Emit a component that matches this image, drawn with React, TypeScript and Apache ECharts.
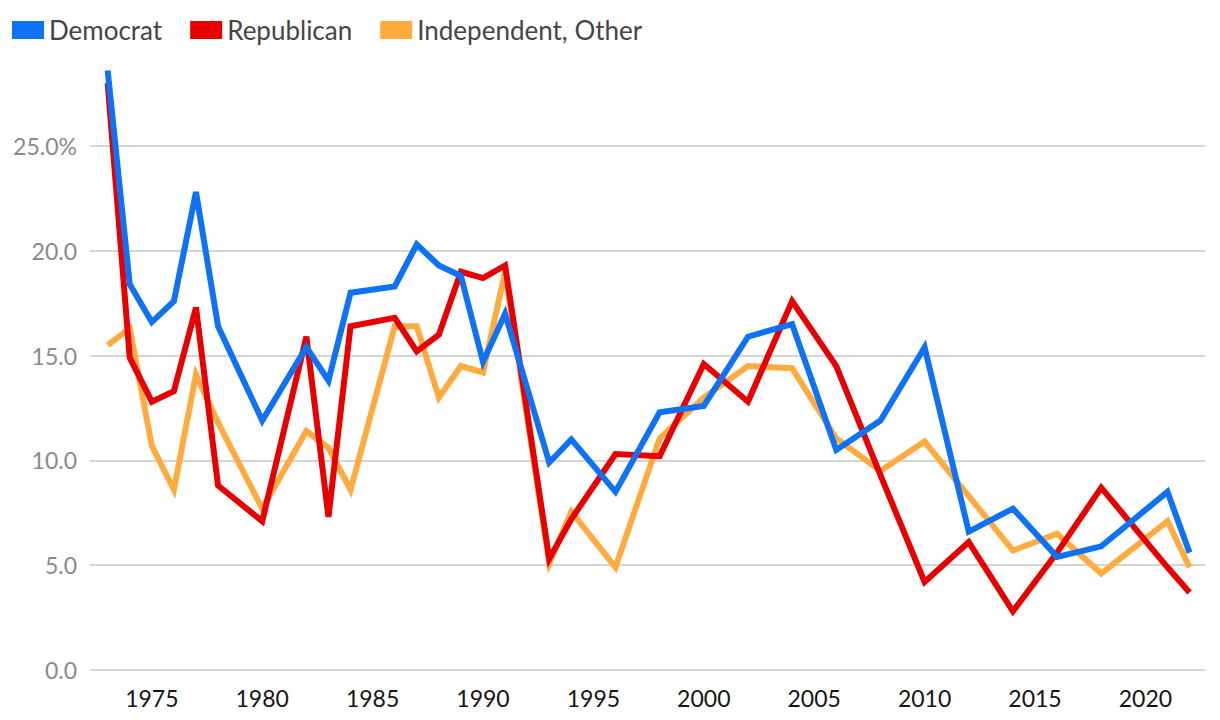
import React, { useEffect, useRef } from "react";
import * as echarts from "echarts";

const years = [1973, 1974, 1975, 1976, 1977, 1978, 1980, 1982, 1983, 1984, 1986, 1987, 1988, 1989, 1990, 1991, 1993, 1994, 1996, 1998, 2000, 2002, 2004, 2006, 2008, 2010, 2012, 2014, 2016, 2018, 2021, 2022];

const democrat = [28.6, 18.4, 16.6, 17.6, 22.8, 16.4, 11.9, 15.4, 13.8, 18.0, 18.3, 20.3, 19.3, 18.8, 14.7, 17.0, 9.9, 11.0, 8.5, 12.3, 12.6, 15.9, 16.5, 10.5, 11.9, 15.4, 6.6, 7.7, 5.4, 5.9, 8.5, 5.6];
const republican = [28.0, 14.9, 12.8, 13.3, 17.3, 8.8, 7.1, 15.9, 7.3, 16.4, 16.8, 15.2, 16.0, 19.0, 18.7, 19.3, 5.3, 7.2, 10.3, 10.2, 14.6, 12.8, 17.6, 14.5, 9.3, 4.2, 6.1, 2.8, 5.6, 8.7, 4.9, 3.7];
const independent = [15.5, 16.3, 10.7, 8.6, 14.1, 11.8, 7.7, 11.4, 10.6, 8.6, 16.4, 16.4, 13.0, 14.5, 14.2, 19.0, 5.1, 7.55, 4.9, 11.05, 13.0, 14.5, 14.4, 11.05, 9.5, 10.9, 8.3, 5.7, 6.5, 4.6, 7.1, 4.9];

const xTickLabels = [1975, 1980, 1985, 1990, 1995, 2000, 2005, 2010, 2015, 2020];

const seriesNames = ["Democrat", "Republican", "Independent, Other"];
const colors: Record<string, string> = {
  Democrat: "#0F72F5",
  Republican: "#E80000",
  "Independent, Other": "#FFAB40",
};

const FONT = "Lato, 'Noto Sans', sans-serif";

export default function App() {
  const ref = useRef<HTMLDivElement>(null);
  useEffect(() => {
    if (!ref.current) return;
    const chart = echarts.init(ref.current, undefined, { renderer: "svg" });
    const pair = (vals: number[]) => years.map((y, i) => [y, vals[i]]);
    const mk = (name: string, vals: number[]) => ({
      name,
      type: "line",
      data: pair(vals),
      showSymbol: false,
      symbol: "none",
      clip: false,
      lineStyle: { width: 6, color: colors[name], cap: "butt", join: "miter" },
      itemStyle: { color: colors[name] },
    });
    chart.setOption({
      animation: false,
      backgroundColor: "#ffffff",
      textStyle: { fontFamily: FONT },
      legend: {
        data: seriesNames,
        left: 7,
        top: 12,
        itemWidth: 32,
        itemHeight: 18,
        itemGap: 28,
        icon: "rect",
        textStyle: { fontSize: 26, color: "#454545", fontFamily: FONT },
      },
      grid: { left: 90, right: 15, top: 146, bottom: 50, containLabel: false },
      xAxis: {
        type: "value",
        min: 1972.2,
        max: 2022.7,
        axisLine: { show: false },
        axisTick: { show: false },
        splitLine: { show: false },
        axisLabel: {
          customValues: xTickLabels,
          fontSize: 23,
          color: "#151515",
          margin: 16,
          fontFamily: FONT,
          formatter: (v: number) => String(v),
        },
      },
      yAxis: {
        type: "value",
        min: 0,
        max: 25,
        interval: 5,
        axisLine: { show: false },
        axisTick: { show: false },
        splitLine: { lineStyle: { color: "#D3D6D6", width: 2 } },
        axisLabel: {
          fontSize: 23,
          color: "#8A8A8A",
          margin: 13,
          fontFamily: FONT,
          formatter: (v: number) => (v === 25 ? "25.0%" : v.toFixed(1)),
        },
      },
      series: [
        mk("Independent, Other", independent),
        mk("Republican", republican),
        mk("Democrat", democrat),
      ],
    });
    return () => chart.dispose();
  }, []);
  return (
    <div
      ref={ref}
      style={{ position: "absolute", left: 0, top: 0, width: 1220, height: 720 }}
    />
  );
}
